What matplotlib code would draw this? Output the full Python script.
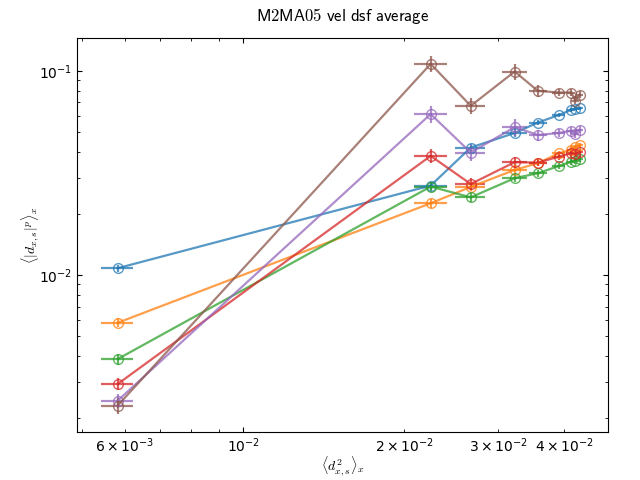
import matplotlib as mpl
import matplotlib.pyplot as plt

mpl.rcParams['mathtext.fontset'] = 'cm'
mpl.rcParams['xtick.direction'] = 'in'
mpl.rcParams['ytick.direction'] = 'in'
mpl.rcParams['xtick.top'] = True
mpl.rcParams['ytick.right'] = True

# x positions shared by all series
dx2 = [5.82e-3, 0.02246, 0.0267, 0.03227, 0.03567, 0.03906, 0.04121, 0.04193, 0.04271]
dx2_err = [0.0004, 0.0016, 0.0017, 0.0017, 0.0014, 0.0011, 0.0007, 0.0007, 0.0007]

blue = [0.01079, 0.0274, 0.0421, 0.0496, 0.0558, 0.0608, 0.0644, 0.0652, 0.0656]
orange = [5.83e-3, 0.02245, 0.0270, 0.0327, 0.0353, 0.0395, 0.0410, 0.0423, 0.0431]
green = [3.87e-3, 0.0271, 0.0240, 0.0298, 0.0315, 0.0342, 0.0359, 0.0363, 0.0369]
red = [2.92e-3, 0.0383, 0.0279, 0.0357, 0.0355, 0.0380, 0.0395, 0.0392, 0.0399]
purple = [2.42e-3, 0.0614, 0.0398, 0.0530, 0.0485, 0.0496, 0.0509, 0.0491, 0.0514]
brown = [2.29e-3, 0.1082, 0.0674, 0.0992, 0.0798, 0.0783, 0.0783, 0.0715, 0.0765]

blue_err = [0.0004, 0.0012, 0.0018, 0.0020, 0.0015, 0.0012, 0.0012, 0.0012, 0.0012]
orange_err = [0.0003, 0.0012, 0.0012, 0.0013, 0.0012, 0.0012, 0.0012, 0.0012, 0.0012]
green_err = [0.00025, 0.0014, 0.0012, 0.0013, 0.0012, 0.0012, 0.0012, 0.0012, 0.0012]
red_err = [0.0002, 0.0030, 0.0018, 0.0022, 0.0015, 0.0015, 0.0015, 0.0015, 0.0015]
purple_err = [0.0002, 0.0060, 0.0035, 0.0050, 0.0030, 0.0020, 0.0020, 0.0020, 0.0020]
brown_err = [0.0002, 0.0100, 0.0060, 0.0090, 0.0050, 0.0030, 0.0030, 0.0030, 0.0030]

series = [blue, orange, green, red, purple, brown]
errors = [blue_err, orange_err, green_err, red_err, purple_err, brown_err]

fig, ax = plt.subplots(figsize=(6.4, 4.8), dpi=100)
fig.subplots_adjust(left=0.12, right=0.95, bottom=0.1, top=0.921)

for i, (ys, es) in enumerate(zip(series, errors)):
    ax.errorbar(dx2, ys, xerr=dx2_err, yerr=es, color='C%d' % i, marker='o',
                mfc='none', ms=7, lw=1.6, alpha=0.75)

ax.set_xscale('log')
ax.set_yscale('log')
ax.set_xlim(4.88e-3, 0.04827)
ax.set_ylim(1.70e-3, 0.145)

ax.set_xlabel(r'$\langle d_{x,s}^2 \rangle_x$', labelpad=-1)
ax.set_ylabel(r'$\langle |d_{x,s}|^p \rangle_x$', labelpad=-2)
ax.set_title(r'$\mathsf{M2MA05\ vel\ dsf\ average}$', fontsize=12, pad=12)

ax.tick_params(which='both', top=True, right=True)

plt.savefig('out.png', dpi=100)
